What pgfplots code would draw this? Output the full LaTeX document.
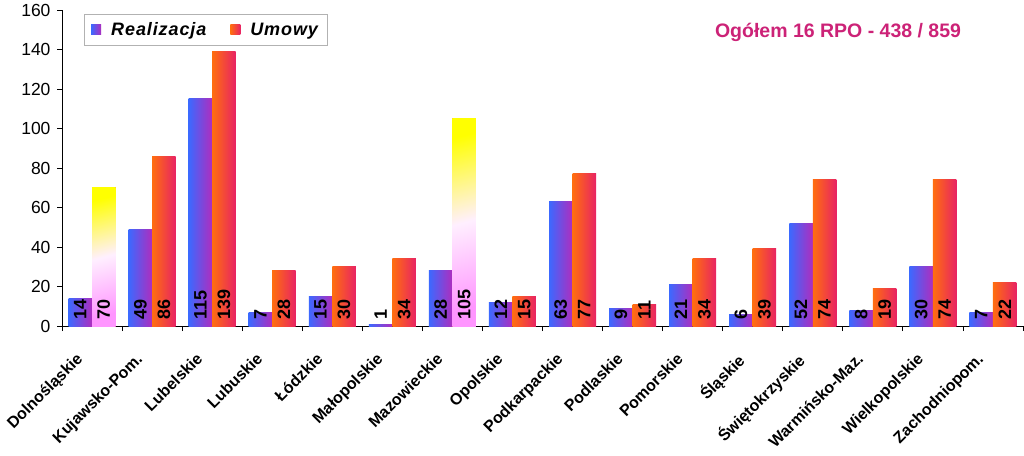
\documentclass[border=0pt]{standalone}
\usepackage{pgfplots}
\pgfplotsset{compat=1.18}
\usepackage{pgfplotstable}
\usepackage{fontspec}
\setmainfont{Liberation Sans}
\newfontfamily\legfont[LetterSpace=5]{Liberation Sans}
\definecolor{rblue}{RGB}{60,105,255}
\definecolor{rpurp}{RGB}{175,45,190}
\definecolor{uorange}{RGB}{255,110,15}
\definecolor{ured}{RGB}{232,35,100}
\definecolor{ypink}{RGB}{255,150,255}
\definecolor{titlemag}{RGB}{204,34,119}

\pgfplotstableread{
x r u
0 14 70
1 49 86
2 115 139
3 7 28
4 15 30
5 1 34
6 28 105
7 12 15
8 63 77
9 9 11
10 21 34
11 6 39
12 52 74
13 8 19
14 30 74
15 7 22
}\data

\pgfplotstableread{
x u
0 70
6 105
}\spec

\begin{document}
\begin{tikzpicture}
\begin{axis}[
 at={(0pt,0pt)}, anchor=south west,
 scale only axis, width=961pt, height=316pt,
 xmin=-0.5, xmax=15.5, ymin=0, ymax=160,
 clip=false,
 axis x line*=bottom, axis y line*=left,
 axis line style={-, black, line width=0.8pt},
 ybar, bar width=23.5pt,
 xtick={-0.5,0.5,...,15.5}, x tick label as interval,
 xticklabels={Dolnośląskie,Kujawsko-Pom.,Lubelskie,Lubuskie,Łódzkie,Małopolskie,Mazowieckie,Opolskie,Podkarpackie,Podlaskie,Pomorskie,Śląskie,Świętokrzyskie,Warmińsko-Maz.,Wielkopolskie,Zachodniopom.},
 x tick label style={xshift=-17pt, yshift=-19pt, rotate=45, anchor=north east, font=\bfseries\fontsize{16}{16}\selectfont, inner sep=1pt},
 ytick={0,20,...,160},
 y tick label style={font=\fontsize{17.5}{17.5}\selectfont, xshift=-3pt},
 /pgf/number format/assume math mode=true,
 tick align=outside, major tick length=5pt,
 tick style={black, line width=0.8pt},
 legend style={at={(0.0229,0.987)}, anchor=north west, legend columns=2, draw=gray!60,
   font=\legfont\bfseries\itshape\fontsize{18}{18}\selectfont, inner xsep=7pt, inner ysep=6pt,
   /tikz/every even column/.append style={column sep=22pt}},
]
\addlegendimage{legend image code/.code={\path[draw=none, left color=rblue, right color=rpurp] (0pt,-5pt) rectangle (10pt,5pt); \path[draw=none] (18pt,0pt);}}
\addlegendentry{Realizacja}
\addlegendimage{legend image code/.code={\path[draw=none, left color=uorange, right color=ured] (0pt,-5pt) rectangle (10pt,5pt); \path[draw=none] (18pt,0pt);}}
\addlegendentry{Umowy\hspace{9pt}}
\pgfplotsinvokeforeach{0,...,15}{
\addplot[draw=none, forget plot, left color=rblue, right color=rpurp, bar shift=-11.75pt,
  restrict x to domain=#1:#1] table[x=x, y=r] {\data};
\addplot[draw=none, forget plot, left color=uorange, right color=ured, bar shift=11.75pt,
  restrict x to domain=#1:#1] table[x=x, y=u] {\data};
}
\pgfplotsinvokeforeach{0,6}{
\addplot[draw=none, forget plot, top color=yellow, bottom color=ypink, middle color=white!85!ypink, shading angle=15, bar shift=11.75pt,
  restrict x to domain=#1:#1] table[x=x, y=u] {\spec};
}
\addplot[draw=none, fill=none, forget plot, bar shift=-11.75pt, point meta=explicit,
  nodes near coords={\pgfmathprintnumber{\pgfplotspointmeta}},
  nodes near coords style={rotate=90, anchor=west, font=\bfseries\fontsize{18}{18}\selectfont, text=black, inner xsep=6pt, inner ysep=0pt}]
  table[x=x, y expr=0, meta=r] {\data};
\addplot[draw=none, fill=none, forget plot, bar shift=11.75pt, point meta=explicit,
  nodes near coords={\pgfmathprintnumber{\pgfplotspointmeta}},
  nodes near coords style={rotate=90, anchor=west, font=\bfseries\fontsize{18}{18}\selectfont, text=black, inner xsep=6pt, inner ysep=0pt}]
  table[x=x, y expr=0, meta=u] {\data};
\node[font=\bfseries\fontsize{19.5}{19.5}\selectfont, text=titlemag] at (rel axis cs:0.8075,0.93) {Ogółem 16 RPO - 438 / 859};
\end{axis}
\pgfresetboundingbox
\path (-62pt,-129pt) rectangle (962pt,326pt);
\end{tikzpicture}
\end{document}
